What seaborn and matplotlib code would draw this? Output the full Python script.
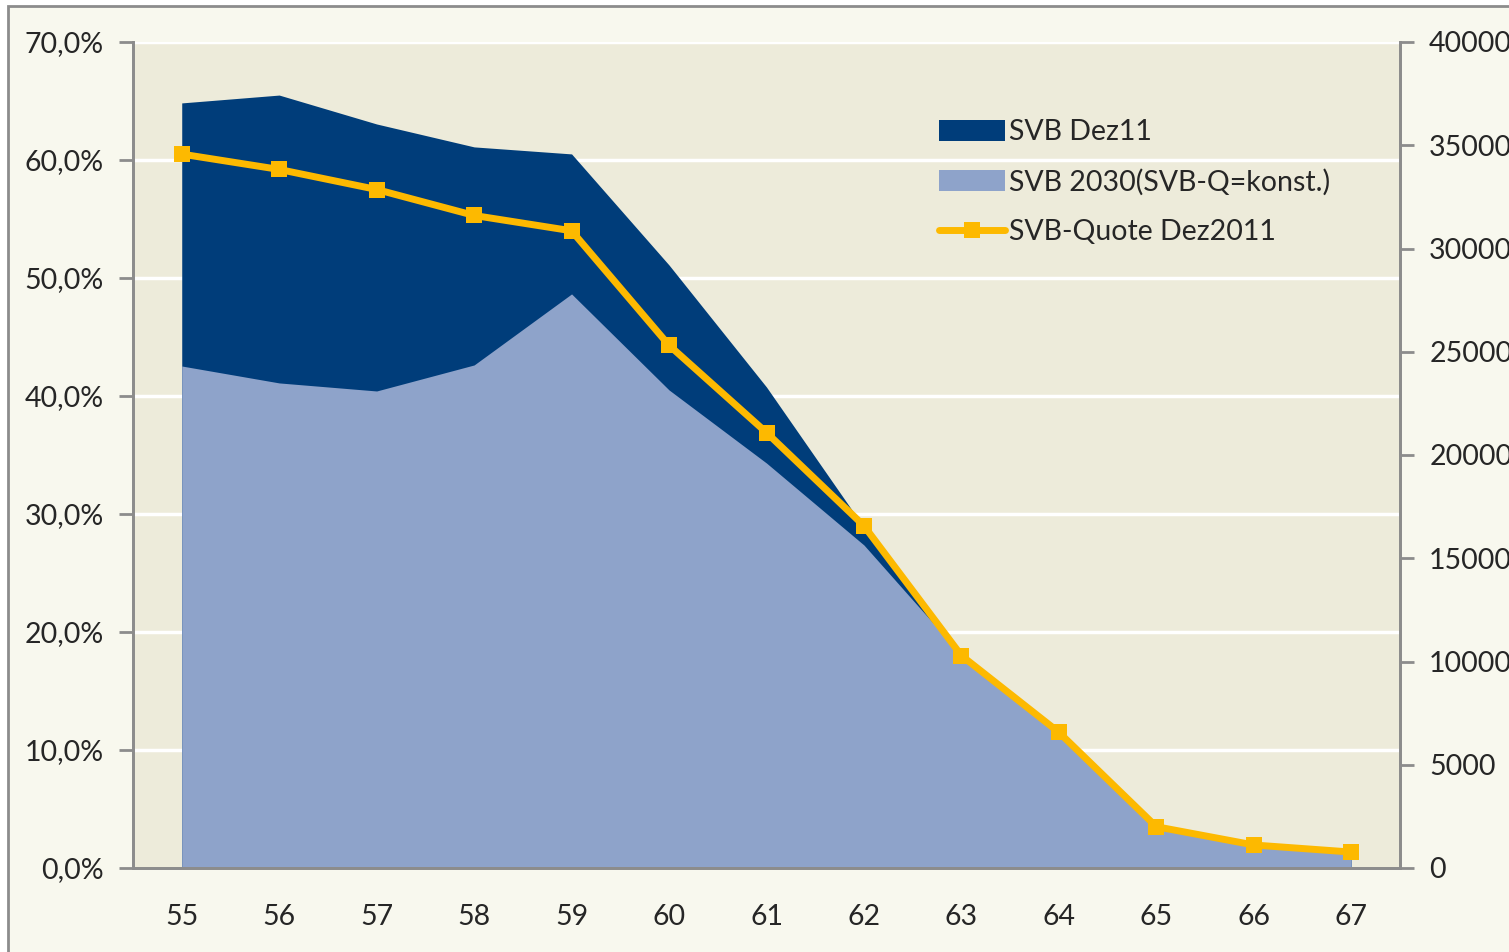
import numpy as np
import pandas as pd
import matplotlib
matplotlib.use("Agg")
import matplotlib.pyplot as plt
import seaborn as sns
from matplotlib.patches import Rectangle, Patch
from matplotlib.lines import Line2D
from matplotlib.ticker import FuncFormatter, FixedLocator

# ── data ──────────────────────────────────────────────────────────────────────
ages = [55, 56, 57, 58, 59, 60, 61, 62, 63, 64, 65, 66, 67]
svb_dez11 = [37050, 37430, 36030, 34920, 34580, 29200, 23290, 16500,
             10070, 6440, 1840, 970, 630]
svb_2030 = [24310, 23490, 23100, 24360, 27800, 23150, 19610, 15640,
            10320, 6540, 1940, 1020, 730]
svb_quote = [60.5, 59.2, 57.5, 55.3, 54.0, 44.3, 36.9, 29.0,
             18.0, 11.5, 3.5, 1.95, 1.35]

left_ticks = [0, 10, 20, 30, 40, 50, 60, 70]
right_ticks = [0, 5000, 10000, 15000, 20000, 25000, 30000, 35000, 40000]

df = pd.DataFrame({"Alter": ages, "SVB Dez11": svb_dez11,
                   "SVB 2030": svb_2030, "Quote": svb_quote})

# ── style ─────────────────────────────────────────────────────────────────────
sns.set_theme(style="white")
plt.rcParams["font.family"] = ["Lato", "DejaVu Sans"]

DARK = "#003D7A"
LIGHT = "#8EA3CA"
GOLD = "#FDB900"
PLOT_BG = "#EDEBDA"
FIG_BG = "#F8F8EE"
AXIS = "#8C8C8C"
FS = 20.5

W, H = 1509, 952
fig = plt.figure(figsize=(W / 100, H / 100), dpi=100, facecolor="white")
fig.patches.append(Rectangle((8 / W, -0.05), 1.2, 1 - 6 / H + 0.05,
                             transform=fig.transFigure, facecolor=FIG_BG,
                             edgecolor=AXIS, linewidth=2, zorder=-10))

ax2 = fig.add_axes([133 / W, 1 - 868 / H, (1400 - 133) / W, (868 - 42) / H])
ax = ax2.twinx()
# percent on the left, counts on the right
ax.yaxis.tick_left()
ax.yaxis.set_label_position("left")
ax2.yaxis.tick_right()
ax2.yaxis.set_label_position("right")
ax.set_zorder(2)
ax2.set_zorder(1)
ax.patch.set_visible(False)
ax2.set_facecolor(PLOT_BG)

# gridlines at the percent ticks, behind the areas
for t in left_ticks[1:]:
    ax2.plot([0, 1], [t / 70, t / 70], transform=ax2.transAxes,
             color="white", lw=2.5, zorder=0.5)

# areas (right axis), overlapping not stacked
ax2.fill_between(df["Alter"], df["SVB Dez11"], color=DARK, lw=0, zorder=1)
ax2.fill_between(df["Alter"], df["SVB 2030"], color=LIGHT, lw=0, zorder=1.1)

# line (left axis)
sns.lineplot(data=df, x="Alter", y="Quote", ax=ax, color=GOLD, lw=5,
             marker="s", markersize=12, markeredgewidth=0, zorder=3)

ax.set_xlim(54.5, 67.5)
ax.set_ylim(0, 70)
ax2.set_ylim(0, 40000)
ax.set_xlabel("")
ax.set_ylabel("")
ax2.set_ylabel("")

ax.yaxis.set_major_locator(FixedLocator(left_ticks))
ax.yaxis.set_major_formatter(
    FuncFormatter(lambda v, p: f"{v:.1f}".replace(".", ",") + "%"))
ax2.yaxis.set_major_locator(FixedLocator(right_ticks))
ax2.yaxis.set_major_formatter(FuncFormatter(lambda v, p: f"{int(v)}"))

ax2.set_xticks(ages)
ax2.set_xticklabels([str(a) for a in ages])
ax2.set_xticks(np.arange(54.5, 68, 1), minor=True)
ax2.tick_params(axis="x", which="major", length=0, pad=26, labelsize=FS)
ax2.tick_params(axis="x", which="minor", length=12, width=2, color=AXIS,
                direction="out")
ax.tick_params(axis="x", bottom=False, labelbottom=False)
ax.tick_params(axis="y", length=10, width=2, color=AXIS, pad=11,
               labelsize=FS, direction="out")
ax2.tick_params(axis="y", length=10, width=2, color=AXIS, pad=11,
                labelsize=FS, direction="out")

for a in (ax, ax2):
    a.spines["top"].set_visible(False)
    for s in ("left", "right", "bottom"):
        a.spines[s].set_color(AXIS)
        a.spines[s].set_linewidth(2)

# ── legend ────────────────────────────────────────────────────────────────────
handles = [Patch(facecolor=DARK, edgecolor="none"),
           Patch(facecolor=LIGHT, edgecolor="none"),
           Line2D([], [], color=GOLD, lw=5, marker="s", markersize=12,
                  markeredgewidth=0)]
labels = ["SVB Dez11", "SVB 2030(SVB-Q=konst.)", "SVB-Quote Dez2011"]
fig.legend(handles, labels, loc="upper left",
           bbox_to_anchor=(925 / W, 1 - 105 / H), frameon=False,
           fontsize=FS, handlelength=2.3, handleheight=0.75,
           handletextpad=0.15, labelspacing=0.82, borderpad=0)

fig.savefig("out.png", dpi=100, facecolor=fig.get_facecolor())
